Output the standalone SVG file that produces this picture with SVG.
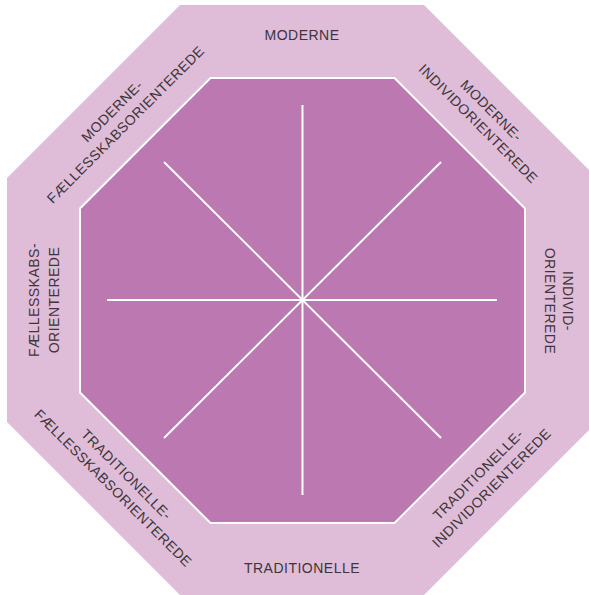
<svg xmlns="http://www.w3.org/2000/svg" width="589" height="595" viewBox="0 0 589 595">
<style>
.outer{fill:#dfbcd8}
.inner{fill:#bc78b1;stroke:#ffffff;stroke-width:2}
.spoke{stroke:#ffffff;stroke-width:2;fill:none}
text{font-family:"Liberation Sans",Arial,sans-serif;font-size:14px;fill:#3d3539;text-anchor:middle;letter-spacing:0.5px}
</style>
<rect width="589" height="595" fill="#ffffff"/>
<g id="outer-octagon">
<polygon class="outer" points="180,5 424,5 597,178 597,422 424,595 180,595 7,422 7,178"/>
</g>
<g id="inner-octagon">
<polygon class="inner" points="210.5,78 394.5,78 525,208.5 525,392.5 394.5,523 210.5,523 80,392.5 80,208.5"/>
</g>
<g id="connectors">
<line class="spoke" x1="302.5" y1="105" x2="302.5" y2="495"/>
<line class="spoke" x1="107" y1="300" x2="497" y2="300"/>
<line class="spoke" x1="164" y1="162" x2="441" y2="438"/>
<line class="spoke" x1="441" y1="162" x2="164" y2="438"/>
</g>
<g id="label-moderne">
<text x="302" y="40">MODERNE</text>
</g>
<g id="label-moderne-individ" transform="translate(491.5,110.5) rotate(45)">
<text x="0" y="5">MODERNE-</text>
<text x="0" y="23.5">INDIVIDORIENTEREDE</text>
</g>
<g id="label-individ" transform="translate(568,301) rotate(90)">
<text x="0" y="5">INDIVID-</text>
<text x="0" y="23">ORIENTEREDE</text>
</g>
<g id="label-traditionelle-individ" transform="translate(478,474.4) rotate(-45)">
<text x="0" y="5">TRADITIONELLE-</text>
<text x="0" y="24">INDIVIDORIENTEREDE</text>
</g>
<g id="label-traditionelle">
<text x="302" y="573">TRADITIONELLE</text>
</g>
<g id="label-traditionelle-faelles" transform="translate(126.6,474.4) rotate(45)">
<text x="0" y="5">TRADITIONELLE-</text>
<text x="0" y="24">FÆLLESSKABSORIENTEREDE</text>
</g>
<g id="label-faelles" transform="translate(34,300) rotate(-90)">
<text x="0" y="5">FÆLLESSKABS-</text>
<text x="0" y="24.5">ORIENTEREDE</text>
</g>
<g id="label-moderne-faelles" transform="translate(112,111) rotate(-45)">
<text x="0" y="5">MODERNE-</text>
<text x="0" y="24">FÆLLESSKABSORIENTEREDE</text>
</g>
</svg>
